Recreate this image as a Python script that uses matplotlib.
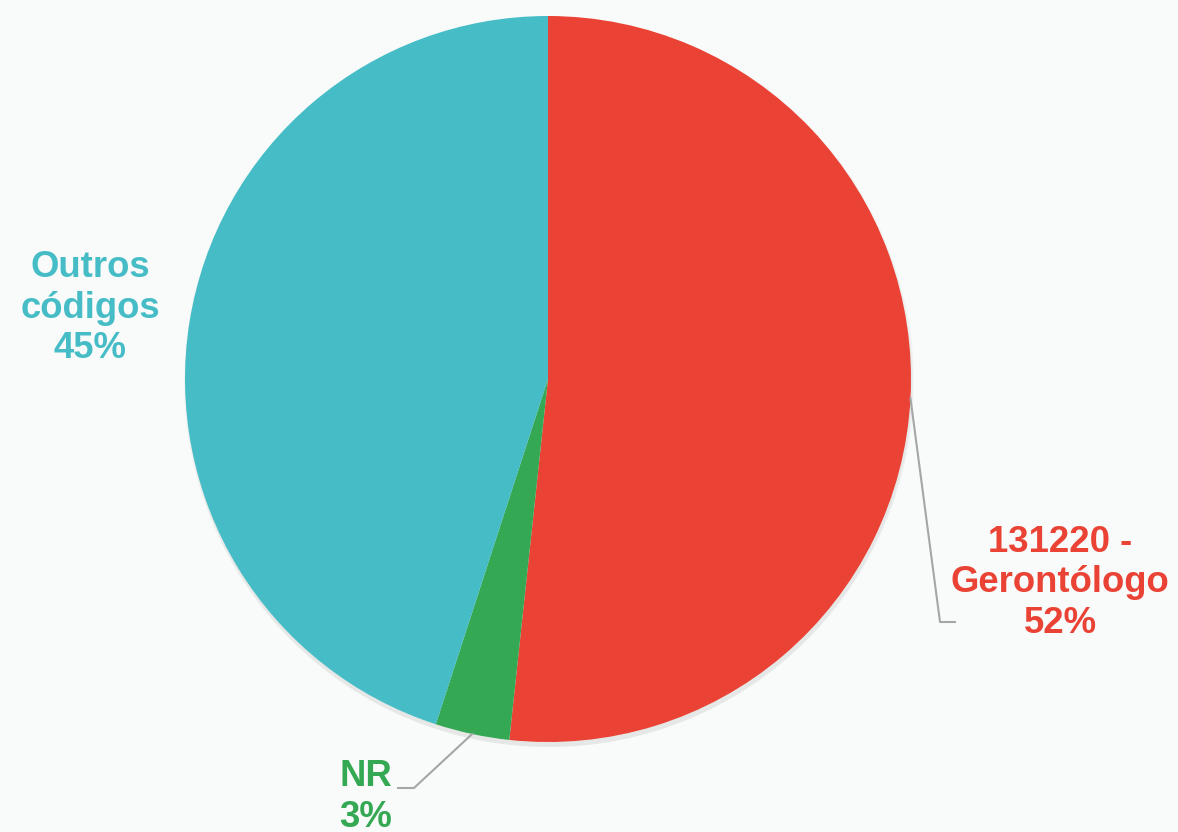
import matplotlib.pyplot as plt
import numpy as np
from matplotlib.patches import Circle

# Data
labels = ['131220 -\nGerontólogo', 'NR', 'Outros\ncódigos']
shares = [51.7, 3.3, 45.0]
colors = ['#ea4335', '#34a853', '#46bdc6']

plt.rcParams['font.family'] = ['Liberation Sans', 'DejaVu Sans']

W, H = 1178, 832
fig = plt.figure(figsize=(W / 100, H / 100), dpi=100, facecolor='#f9fafa')
ax = fig.add_axes([0, 0, 1, 1])

cx, cy, r = 548, H - 379, 363

# soft shadow under the pie
for k in range(3):
    ax.add_patch(Circle((cx + 1, cy - 3 - k), r + 2 - k, color='#808080', alpha=0.05, lw=0, zorder=1))

wedges, _ = ax.pie(shares, colors=colors, startangle=90, counterclock=False,
                   radius=r, center=(cx, cy), frame=True,
                   wedgeprops=dict(linewidth=0, zorder=2))
ax.set_xlim(0, W)
ax.set_ylim(0, H)
ax.set_aspect('equal')
ax.axis('off')

# label placement (pixel coords, y from top) and leader elbows
text_pos = [(1060, 583), (366, 797), (90, 308)]
elbows = [((940, 622), (955, 622)), ((414, 788), (398, 788)), None]

for w, lab, val, col, tp, el in zip(wedges, labels, shares, colors, text_pos, elbows):
    txt = f"{lab}\n{round(val):.0f}%"
    ax.text(tp[0], H - tp[1], txt, color=col, fontsize=26.3, fontweight='bold',
            ha='center', va='center', linespacing=1.2, zorder=5)
    if el is not None:
        mid = np.deg2rad((w.theta1 + w.theta2) / 2)
        sx, sy = cx + r * np.cos(mid), cy + r * np.sin(mid)
        xs = [sx, el[0][0], el[1][0]]
        ys = [sy, H - el[0][1], H - el[1][1]]
        ax.plot(xs, ys, color='#a6a6a6', lw=1.5, zorder=4)

fig.savefig('out.png', dpi=100, facecolor=fig.get_facecolor())
